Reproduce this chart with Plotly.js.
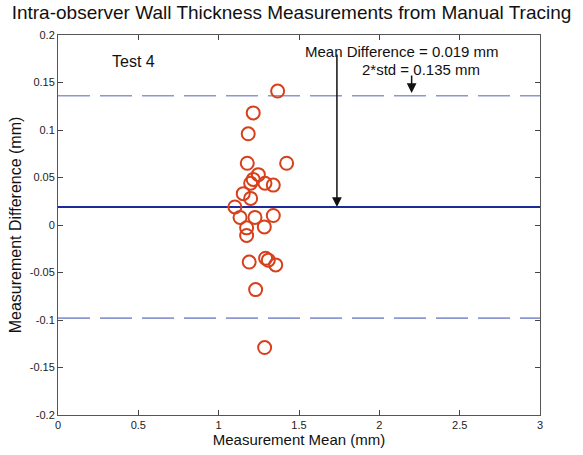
<!DOCTYPE html>
<html>
<head>
<meta charset="utf-8">
<script src="https://cdn.plot.ly/plotly-3.0.1.min.js"></script>
<style>html,body{margin:0;padding:0;background:#fff;}#chart{width:583px;height:455px;}</style>
</head>
<body>
<div id="chart"></div>
<script>
var meanX = [1.367, 1.215, 1.184, 1.178, 1.423, 1.247, 1.215, 1.199, 1.288, 1.340, 1.153, 1.199, 1.101, 1.133, 1.226, 1.340, 1.284, 1.174, 1.174, 1.190, 1.292, 1.309, 1.355, 1.230, 1.286];
var diffY = [0.141, 0.118, 0.096, 0.065, 0.065, 0.053, 0.048, 0.044, 0.044, 0.042, 0.033, 0.028, 0.019, 0.008, 0.008, 0.010, -0.002, -0.003, -0.011, -0.039, -0.035, -0.037, -0.042, -0.068, -0.129];
var meanDiff = 0.019;
var upperLimit = 0.136;
var lowerLimit = -0.098;
var xRange = [0, 3];
var xTicks = [0, 0.5, 1, 1.5, 2, 2.5, 3];
var xTickText = ['0', '0.5', '1', '1.5', '2', '2.5', '3'];
var yTicks = [-0.2, -0.15, -0.1, -0.05, 0, 0.05, 0.1, 0.15, 0.2];
var yTickText = ['-0.2', '-0.15', '-0.1', '-0.05', '0', '0.05', '0.1', '0.15', '0.2'];

var font = 'Liberation Sans, Arial, sans-serif';

var traces = [
  {x: xRange, y: [upperLimit, upperLimit], mode: 'lines', line: {color: '#8c96d0', width: 1.6, dash: '32px,10px'}, hoverinfo: 'skip'},
  {x: xRange, y: [lowerLimit, lowerLimit], mode: 'lines', line: {color: '#8c96d0', width: 1.6, dash: '32px,10px'}, hoverinfo: 'skip'},
  {x: xRange, y: [meanDiff, meanDiff], mode: 'lines', line: {color: '#1c2a9a', width: 2}, hoverinfo: 'skip'},
  {x: meanX, y: diffY, mode: 'markers', marker: {symbol: 'circle-open', size: 13, color: '#d8401c', line: {width: 2, color: '#d8401c'}}}
];

var layout = {
  width: 583, height: 455,
  margin: {l: 58, r: 43, t: 35, b: 40},
  paper_bgcolor: '#fff', plot_bgcolor: '#fff',
  showlegend: false,
  font: {family: font, color: '#111'},
  title: {text: 'Intra-observer Wall Thickness Measurements from Manual Tracing', font: {family: font, size: 19, color: '#111'}, x: 0.5, xanchor: 'center', y: 0.972, yanchor: 'middle'},
  xaxis: {range: xRange, tickvals: xTicks, ticktext: xTickText, ticks: 'inside', ticklen: 5, tickcolor: '#444', showline: true, mirror: 'ticks', linecolor: '#555', linewidth: 1, showgrid: false, zeroline: false, tickfont: {size: 11, color: '#222'},
    title: {text: 'Measurement Mean (mm)', font: {size: 15, color: '#111'}, standoff: 2}},
  yaxis: {range: [-0.2, 0.2], tickvals: yTicks, ticktext: yTickText, ticks: 'inside', ticklen: 5, tickcolor: '#444', showline: true, mirror: 'ticks', linecolor: '#555', linewidth: 1, showgrid: false, zeroline: false, tickfont: {size: 11, color: '#222'},
    title: {text: 'Measurement Difference (mm)', font: {size: 16, color: '#111'}, standoff: 4}},
  annotations: [
    {x: 0.47, y: 0.172, xref: 'x', yref: 'y', text: 'Test 4', showarrow: false, font: {size: 16, color: '#111'}},
    {x: 2.143, y: 0.1824, xref: 'x', yref: 'y', text: 'Mean Difference = 0.019 mm', showarrow: false, font: {size: 15, color: '#111'}},
    {x: 2.258, y: 0.164, xref: 'x', yref: 'y', text: '2*std = 0.135 mm', showarrow: false, font: {size: 15, color: '#111'}},
    {x: 1.736, y: meanDiff, xref: 'x', yref: 'y', ax: 1.736, ay: 0.181, axref: 'x', ayref: 'y', text: '', showarrow: true, arrowhead: 2, arrowsize: 1.3, arrowwidth: 1.5, arrowcolor: '#111', standoff: 0},
    {x: 2.201, y: 0.139, xref: 'x', yref: 'y', ax: 2.201, ay: 0.159, axref: 'x', ayref: 'y', text: '', showarrow: true, arrowhead: 2, arrowsize: 1.3, arrowwidth: 1.5, arrowcolor: '#111', standoff: 0}
  ]
};

Plotly.newPlot('chart', traces, layout, {displayModeBar: false, staticPlot: true});
</script>
</body>
</html>
